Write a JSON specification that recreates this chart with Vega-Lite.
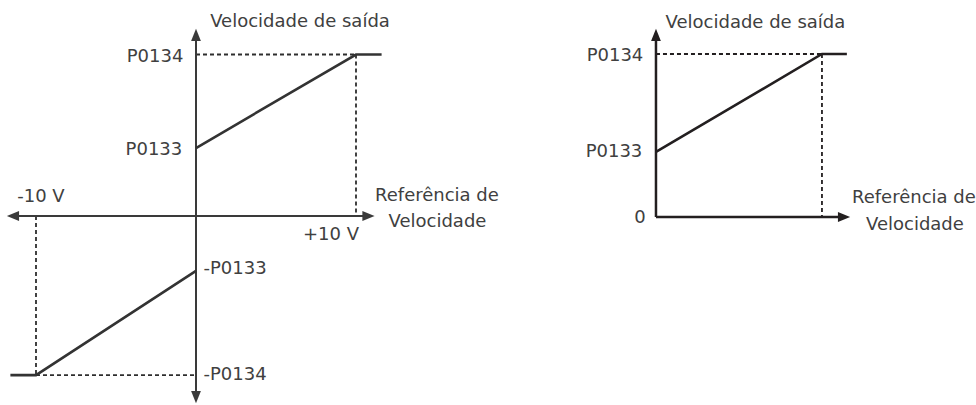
{
  "$schema": "https://vega.github.io/schema/vega-lite/v6.json",
  "width": 976,
  "height": 405,
  "padding": 0,
  "autosize": {"type": "none"},
  "background": "white",
  "config": {"view": {"stroke": null}},
  "datasets": {
    "left": [
      {"g": "axis", "x": 0, "y": -112.1, "x2": 0, "y2": 112.1},
      {"g": "axis", "x": -11.44, "y": 0, "x2": 10.78, "y2": 0},
      {"g": "dash", "x": 0, "y": 100, "x2": 10, "y2": 100},
      {"g": "dash", "x": 10, "y": 100, "x2": 10, "y2": 0},
      {"g": "dash", "x": -10, "y": 0, "x2": -10, "y2": -98.5},
      {"g": "dash", "x": -10, "y": -98.5, "x2": 0, "y2": -98.5},
      {"g": "solid", "seg": "pos", "o": 1, "x": 0, "y": 42.1},
      {"g": "solid", "seg": "pos", "o": 2, "x": 10, "y": 100},
      {"g": "solid", "seg": "pos", "o": 3, "x": 11.6, "y": 100},
      {"g": "solid", "seg": "neg", "o": 1, "x": 0, "y": -34},
      {"g": "solid", "seg": "neg", "o": 2, "x": -10, "y": -98.5},
      {"g": "solid", "seg": "neg", "o": 3, "x": -11.6, "y": -98.5},
      {"g": "arrow", "dir": "up", "x": 0, "y": 112.1},
      {"g": "arrow", "dir": "down", "x": 0, "y": -112.1},
      {"g": "arrow", "dir": "left", "x": -11.44, "y": 0},
      {"g": "arrow", "dir": "right", "x": 10.78, "y": 0},
      {"g": "label", "text": "Velocidade de saída", "x": 6.5, "y": 120.1},
      {"g": "label", "text": "P0134", "x": -2.56, "y": 98.5},
      {"g": "label", "text": "P0133", "x": -2.63, "y": 40.9},
      {"g": "label", "text": "-10 V", "x": -9.69, "y": 11.8},
      {"g": "label", "text": "Referência de", "x": 15.06, "y": 12.4},
      {"g": "label", "text": "Velocidade", "x": 15.09, "y": -3.7},
      {"g": "label", "text": "+10 V", "x": 8.44, "y": -11.8},
      {"g": "label", "text": "-P0133", "x": 2.44, "y": -32.8},
      {"g": "label", "text": "-P0134", "x": 2.44, "y": -98.5}
    ],
    "right": [
      {"g": "axis", "x": 0, "y": 0, "x2": 0, "y2": 111.7},
      {"g": "axis", "x": 0, "y": 0, "x2": 11.33, "y2": 0},
      {"g": "dash", "x": 0, "y": 100, "x2": 10, "y2": 100},
      {"g": "dash", "x": 10, "y": 100, "x2": 10, "y2": 0},
      {"g": "solid", "seg": "pos", "o": 1, "x": 0, "y": 39.9},
      {"g": "solid", "seg": "pos", "o": 2, "x": 10, "y": 100},
      {"g": "solid", "seg": "pos", "o": 3, "x": 11.5, "y": 100},
      {"g": "arrow", "dir": "up", "x": 0, "y": 111.7},
      {"g": "arrow", "dir": "right", "x": 11.33, "y": 0},
      {"g": "label", "text": "Velocidade de saída", "x": 5.99, "y": 119.0},
      {"g": "label", "text": "P0134", "x": -2.47, "y": 98.8},
      {"g": "label", "text": "P0133", "x": -2.53, "y": 39.9},
      {"g": "label", "text": "0", "x": -0.96, "y": -0.6},
      {"g": "label", "text": "Referência de", "x": 15.54, "y": 11.66},
      {"g": "label", "text": "Velocidade", "x": 15.6, "y": -4.9}
    ]
  },
  "resolve": {"scale": {"x": "independent", "y": "independent", "shape": "independent"}},
  "layer": [
    {
      "data": {"name": "left"},
      "encoding": {
        "x": {"field": "x", "type": "quantitative", "axis": null, "scale": {"domain": [-12.25, 48.75], "nice": false, "zero": false}},
        "y": {"field": "y", "type": "quantitative", "axis": null, "scale": {"domain": [-117.03, 133.75], "nice": false, "zero": false}}
      },
      "layer": [
        {
          "transform": [{"filter": "datum.g === 'dash'"}],
          "mark": {"type": "rule", "color": "#2e2e2e", "strokeWidth": 1.8, "strokeDash": [4, 3]},
          "encoding": {"x2": {"field": "x2"}, "y2": {"field": "y2"}}
        },
        {
          "transform": [{"filter": "datum.g === 'axis'"}],
          "mark": {"type": "rule", "color": "#3a3a3a", "strokeWidth": 2},
          "encoding": {"x2": {"field": "x2"}, "y2": {"field": "y2"}}
        },
        {
          "transform": [{"filter": "datum.g === 'solid'"}],
          "mark": {"type": "line", "color": "#333333", "strokeWidth": 2.6},
          "encoding": {"detail": {"field": "seg"}, "order": {"field": "o", "type": "quantitative"}}
        },
        {
          "transform": [{"filter": "datum.g === 'arrow'"}],
          "mark": {"type": "point", "filled": true, "color": "#3a3a3a", "opacity": 1, "size": 150},
          "encoding": {
            "shape": {"field": "dir", "type": "nominal", "legend": null,
              "scale": {"domain": ["up", "down", "left", "right"],
                "range": ["M0,-1L0.8,1L-0.8,1Z", "M0,1L0.8,-1L-0.8,-1Z", "M-1,0L1,-0.8L1,0.8Z", "M1,0L-1,-0.8L-1,0.8Z"]}}
          }
        },
        {
          "transform": [{"filter": "datum.g === 'label'"}],
          "mark": {"type": "text", "font": "DejaVu Sans", "fontSize": 18, "color": "#404040", "align": "center", "baseline": "middle"},
          "encoding": {"text": {"field": "text"}}
        }
      ]
    },
    {
      "data": {"name": "right"},
      "encoding": {
        "x": {"field": "x", "type": "quantitative", "axis": null, "scale": {"domain": [-39.52, 19.28], "nice": false, "zero": false}},
        "y": {"field": "y", "type": "quantitative", "axis": null, "scale": {"domain": [-115.34, 133.13], "nice": false, "zero": false}}
      },
      "layer": [
        {
          "transform": [{"filter": "datum.g === 'dash'"}],
          "mark": {"type": "rule", "color": "#231f20", "strokeWidth": 1.8, "strokeDash": [4, 3]},
          "encoding": {"x2": {"field": "x2"}, "y2": {"field": "y2"}}
        },
        {
          "transform": [{"filter": "datum.g === 'axis'"}],
          "mark": {"type": "rule", "color": "#231f20", "strokeWidth": 2.5},
          "encoding": {"x2": {"field": "x2"}, "y2": {"field": "y2"}}
        },
        {
          "transform": [{"filter": "datum.g === 'solid'"}],
          "mark": {"type": "line", "color": "#231f20", "strokeWidth": 2.6},
          "encoding": {"detail": {"field": "seg"}, "order": {"field": "o", "type": "quantitative"}}
        },
        {
          "transform": [{"filter": "datum.g === 'arrow'"}],
          "mark": {"type": "point", "filled": true, "color": "#231f20", "opacity": 1, "size": 150},
          "encoding": {
            "shape": {"field": "dir", "type": "nominal", "legend": null,
              "scale": {"domain": ["up", "down", "left", "right"],
                "range": ["M0,-1L0.8,1L-0.8,1Z", "M0,1L0.8,-1L-0.8,-1Z", "M-1,0L1,-0.8L1,0.8Z", "M1,0L-1,-0.8L-1,0.8Z"]}}
          }
        },
        {
          "transform": [{"filter": "datum.g === 'label'"}],
          "mark": {"type": "text", "font": "DejaVu Sans", "fontSize": 18, "color": "#404040", "align": "center", "baseline": "middle"},
          "encoding": {"text": {"field": "text"}}
        }
      ]
    }
  ]
}
